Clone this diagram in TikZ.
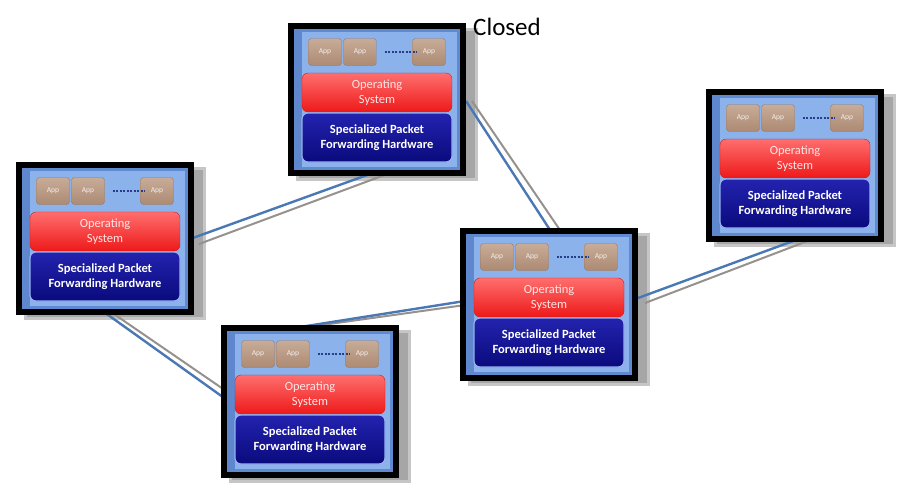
\documentclass[tikz,border=0pt]{standalone}
\usepackage{fontspec}
\setmainfont{Carlito}
\usepackage{tikz}
\usetikzlibrary{shapes,arrows}
\definecolor{panel}{RGB}{140,178,235}
\definecolor{rim}{RGB}{95,138,210}
\definecolor{stripe}{RGB}{95,135,205}
\definecolor{wireblue}{RGB}{74,120,180}
\definecolor{wiregrey}{RGB}{150,145,140}
\definecolor{appfill}{RGB}{185,152,132}
\definecolor{dotblue}{RGB}{40,60,140}
\tikzset{
	router/.style   = {draw=black, line width=6pt, fill=panel, inner sep=0pt,
		minimum width=172pt, minimum height=147pt},
	drop/.style     = {fill=gray!70, draw=gray!45, line width=3pt},
	app/.style      = {draw=appfill!80!black, rounded corners=3pt,
		top color={rgb,255:red,200;green,172;blue,152}, bottom color={rgb,255:red,172;green,138;blue,115},
		minimum width=33pt, minimum height=27pt, inner sep=0pt,
		text=white!85!appfill, font=\fontsize{7.5}{8}\selectfont},
	os/.style       = {draw={rgb,255:red,200;green,30;blue,30}, rounded corners=6pt,
		top color={rgb,255:red,255;green,110;blue,110}, bottom color={rgb,255:red,238;green,25;blue,25},
		minimum width=150pt, minimum height=39pt, inner sep=0pt, align=center,
		text=white!90!red, font=\fontsize{12.5}{15}\selectfont},
	hw/.style       = {draw={rgb,255:red,150;green,175;blue,240}, line width=1.2pt, rounded corners=6pt,
		top color={rgb,255:red,35;green,35;blue,175}, bottom color={rgb,255:red,10;green,10;blue,125},
		minimum width=150pt, minimum height=49pt, inner sep=0pt, align=center,
		text=white, font=\fontsize{12.5}{15}\selectfont\bfseries},
	dots/.style     = {draw=dotblue, line width=2pt, dash pattern=on 2pt off 1.5pt},
	bluewire/.style = {draw=wireblue, line width=2.4pt},
	greywire/.style = {draw=wiregrey, line width=2pt}
}

\begin{document}
\begin{tikzpicture}[x=1pt, y=-1pt]
	\useasboundingbox (0,0) rectangle (917,488);
	
	% shadows behind the boxes
	\foreach \n/\x/\y in {r1/16/162, r2/288/23, r3/460/228, r4/221/325, r5/706/89}
		\draw[drop] (\x+9,\y+6) rectangle (\x+188,\y+156);
	
	% wire ends
	\coordinate (b1-s) at (190,239); \coordinate (b1-t) at (381,170);
	\coordinate (g1-s) at (199,244); \coordinate (g1-t) at (398,170);
	\coordinate (b2-s) at (466,101); \coordinate (b2-t) at (552,233);
	\coordinate (g2-s) at (472,101); \coordinate (g2-t) at (562,233);
	\coordinate (b3-s) at (634,299.5); \coordinate (b3-t) at (804,237);
	\coordinate (g3-s) at (645,303); \coordinate (g3-t) at (818,237);
	\coordinate (b4-s) at (300,327); \coordinate (b4-t) at (465,301);
	\coordinate (g4-s) at (315,326); \coordinate (g4-t) at (465,305);
	\coordinate (b5-s) at (104,312); \coordinate (b5-t) at (227,400);
	\coordinate (g5-s) at (111,312); \coordinate (g5-t) at (229,393);
	\foreach \i in {1,...,5} {
		\draw[greywire] (g\i-s) -- (g\i-t);
		\draw[bluewire] (b\i-s) -- (b\i-t);
	}
	
	% the five closed boxes
	\foreach \n/\x/\y in {r1/16/162, r2/288/23, r3/460/228, r4/221/325, r5/706/89} {
		\node[router] (\n) at (\x+89,\y+76.5) {};
		\draw[rim, line width=3pt] (\x+7.5,\y+7.5) rectangle (\x+170.5,\y+145.5);
		\fill[stripe] (\x+6,\y+6) rectangle (\x+14,\y+147);
		\node[app] (\n-a1) at (\x+37,\y+29) {App};
		\node[app] (\n-a2) at (\x+72,\y+29) {App};
		\node[app] (\n-a3) at (\x+141,\y+29) {App};
		\draw[dots] ([xshift=8pt]\n-a2.east) -- ([xshift=4pt]\n-a3.west);
		\node[os] (\n-os) at (\x+89,\y+69.5) {Operating\\System};
		\node[hw] (\n-hw) at (\x+89,\y+114.5) {Specialized Packet\\Forwarding Hardware};
	}
	
	\node[anchor=west, inner sep=0pt] (title) at (473,27) {\fontsize{25}{30}\selectfont Closed};
\end{tikzpicture}
\end{document}
